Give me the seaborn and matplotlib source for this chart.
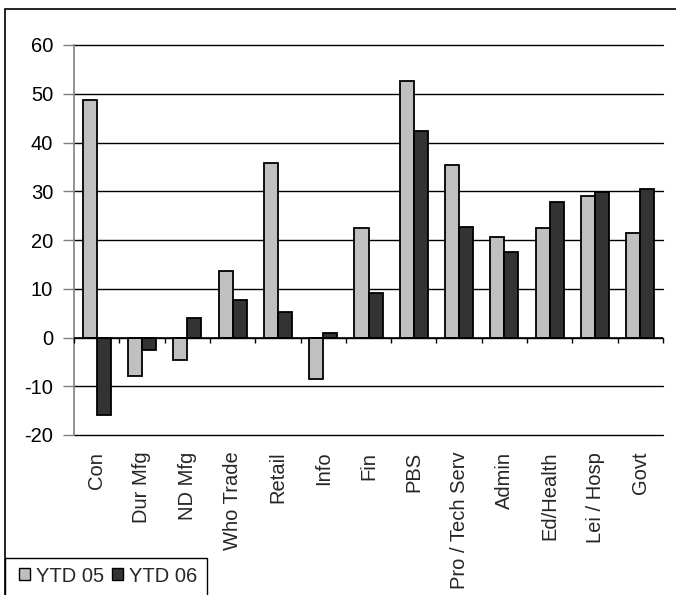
import matplotlib
matplotlib.use("Agg")
import matplotlib.pyplot as plt
from matplotlib.patches import Rectangle, Patch
import seaborn as sns
import pandas as pd

sectors = ["Con", "Dur Mfg", "ND Mfg", "Who Trade", "Retail", "Info", "Fin",
           "PBS", "Pro / Tech Serv", "Admin", "Ed/Health", "Lei / Hosp", "Govt"]
ytd05 = [48.7, -7.8, -4.6, 13.7, 35.7, -8.5, 22.4, 52.6, 35.4, 20.6, 22.4, 29.1, 21.4]
ytd06 = [-15.9, -2.6, 3.9, 7.7, 5.3, 1.0, 9.1, 42.4, 22.7, 17.5, 27.7, 29.8, 30.5]
series = ["YTD 05", "YTD 06"]
colors = ["#c0c0c0", "#333333"]
yticks = [-20, -10, 0, 10, 20, 30, 40, 50, 60]

df = pd.DataFrame({
    "sector": sectors * 2,
    "value": ytd05 + ytd06,
    "series": [series[0]] * len(sectors) + [series[1]] * len(sectors),
})

sns.set_style("white")
plt.rcParams["font.family"] = ["Liberation Sans", "DejaVu Sans"]
plt.rcParams["axes.unicode_minus"] = False

W, H = 676, 595
FS = 14.5
fig = plt.figure(figsize=(W / 100, H / 100), dpi=100)
ax = fig.add_axes([74 / W, 1 - 435 / H, (663 - 74) / W, (435 - 45) / H])

sns.barplot(data=df, x="sector", y="value", hue="series", order=sectors,
            hue_order=series, palette=colors, width=0.62, gap=0,
            edgecolor="black", linewidth=1.3, ax=ax, legend=False, zorder=3)

ax.set_ylim(-20, 60)
ax.set_xlim(-0.5, len(sectors) - 0.5)
ax.set_yticks(yticks)
ax.yaxis.grid(True, color="black", linewidth=1.0)
for gl in ax.yaxis.get_gridlines():
    gl.set_clip_on(False)
ax.set_axisbelow(True)
for s in ["top", "right", "bottom"]:
    ax.spines[s].set_visible(False)
ax.spines["left"].set_color("#808080")
ax.spines["left"].set_linewidth(1.2)
ax.tick_params(axis="y", direction="out", length=8, width=1, color="#808080",
               labelsize=FS, pad=7, labelcolor="black", left=True)
ax.tick_params(axis="x", length=0, labelsize=FS, pad=12)
plt.setp(ax.get_xticklabels(), rotation=90, va="top", ha="center")
ax.set_xlabel("")
ax.set_ylabel("")

# category axis drawn along the zero line with downward separators
ax.axhline(0, color="black", linewidth=1.2, zorder=4)
bounds = [i - 0.5 for i in range(len(sectors) + 1)]
ax.vlines(bounds, 0, -1.1, color="black", linewidth=1.0, zorder=4, clip_on=False)

# chart frame and legend box
fig.patches.append(Rectangle((5 / W, -0.2), 1.2, 1.2 - 9 / H,
                             transform=fig.transFigure, fill=False,
                             edgecolor="black", linewidth=1.2))
fig.patches.append(Rectangle((5 / W, -0.1), (207 - 5) / W, 0.1 + (H - 558) / H,
                             transform=fig.transFigure, fill=False,
                             edgecolor="black", linewidth=1.0))
handles = [Patch(facecolor=c, edgecolor="black", linewidth=1.0) for c in colors]
fig.legend(handles, series, loc="center left",
           bbox_to_anchor=(11 / W, 1 - 576 / H), ncol=2, frameon=False,
           fontsize=FS, handlelength=0.55, handleheight=0.55,
           handletextpad=0.3, columnspacing=0.4, borderaxespad=0)

fig.savefig("out.png", dpi=100)
